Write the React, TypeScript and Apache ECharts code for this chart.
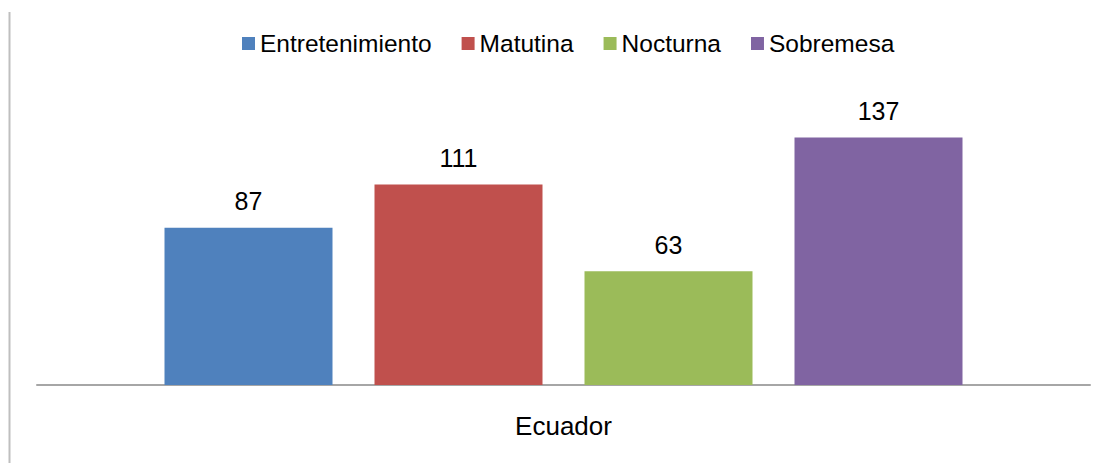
import React, { useEffect, useRef } from "react";
import * as echarts from "echarts";

const categories = ["Ecuador"];
const seriesNames = ["Entretenimiento", "Matutina", "Nocturna", "Sobremesa"];
const entretenimiento = [87];
const matutina = [111];
const nocturna = [63];
const sobremesa = [137];
const colors = ["#4F81BD", "#C0504D", "#9BBB59", "#8064A2"];

export default function App() {
  const ref = useRef<HTMLDivElement>(null);
  useEffect(() => {
    const chart = echarts.init(ref.current!, null, { renderer: "svg" });
    const values = [entretenimiento, matutina, nocturna, sobremesa];
    const font = "'Liberation Sans', Arial, sans-serif";
    chart.setOption({
      animation: false,
      textStyle: { fontFamily: font },
      legend: {
        top: 26,
        left: 237,
        itemWidth: 13,
        itemHeight: 13,
        itemGap: 30,
        icon: "rect",
        textStyle: { fontSize: 24.5, color: "#000", fontFamily: font },
        data: seriesNames,
      },
      grid: { left: 37, right: 17, top: 96, bottom: 78 },
      xAxis: {
        type: "category",
        data: categories,
        axisLine: { lineStyle: { color: "#A6A6A6", width: 2 } },
        axisTick: { show: false },
        axisLabel: { fontSize: 26, color: "#000", margin: 28, fontFamily: font },
      },
      yAxis: {
        type: "value",
        min: 0,
        max: 160,
        show: false,
        splitLine: { show: false },
      },
      graphic: [
        {
          type: "line",
          shape: { x1: 9.5, y1: 12, x2: 9.5, y2: 463 },
          style: { stroke: "#BFBFBF", lineWidth: 2 },
        },
      ],
      series: seriesNames.map((name, i) => ({
        name,
        type: "bar",
        data: values[i],
        barWidth: 168,
        barGap: "25%",
        itemStyle: { color: colors[i] },
        label: {
          show: true,
          position: "top",
          distance: 14,
          fontSize: 25,
          color: "#000",
          fontFamily: font,
        },
      })),
    });
    return () => chart.dispose();
  }, []);
  return <div ref={ref} style={{ width: 1107, height: 463, position: "absolute", left: 0, top: 0 }} />;
}
